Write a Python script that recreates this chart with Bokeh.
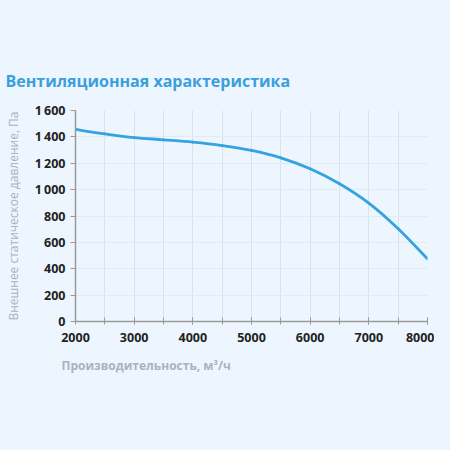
from bokeh.plotting import figure
from bokeh.models import Range1d, FixedTicker, Title, CustomJSTickFormatter
from bokeh.embed import file_html
from bokeh.resources import INLINE

# расход, м3/ч и давление, Па
flow = [2000, 2500, 3000, 3500, 4000, 4500, 5000, 5500, 6000, 6500, 7000, 7500, 8000]
pressure = [1456, 1423, 1395, 1378, 1360, 1334, 1297, 1241, 1158, 1044, 897, 703, 475]

x_ticks = [2000, 3000, 4000, 5000, 6000, 7000, 8000]
x_grid = [2000, 2500, 3000, 3500, 4000, 4500, 5000, 5500, 6000, 6500, 7000, 7500, 8000]
y_ticks = [0, 200, 400, 600, 800, 1000, 1200, 1400, 1600]

BG = "#EDF6FE"
FONT = "Open Sans"

p = figure(
    width=434, height=434, frame_width=352, frame_height=211,
    x_range=Range1d(2000, 8000), y_range=Range1d(0, 1600),
    output_backend="svg", toolbar_location=None,
    background_fill_color=BG, border_fill_color=BG,
    min_border_left=75, min_border_right=7, min_border_top=110, min_border_bottom=113,
)
p.outline_line_color = None

p.title.text = "Вентиляционная характеристика"
p.title.text_color = "#3A9FDC"
p.title.text_font = FONT
p.title.text_font_size = "16px"
p.title.text_font_style = "bold"
p.title.offset = -70
p.title.standoff = 38

# гладкая кривая: сегменты Безье по точкам (Catmull-Rom)
n = len(flow)
x0, y0, x1, y1, cx0, cy0, cx1, cy1 = [], [], [], [], [], [], [], []
for i in range(n - 1):
    a = max(i - 1, 0)
    b = min(i + 2, n - 1)
    x0.append(flow[i]); y0.append(pressure[i])
    x1.append(flow[i + 1]); y1.append(pressure[i + 1])
    cx0.append(flow[i] + (flow[i + 1] - flow[a]) / 6)
    cy0.append(pressure[i] + (pressure[i + 1] - pressure[a]) / 6)
    cx1.append(flow[i + 1] - (flow[b] - flow[i]) / 6)
    cy1.append(pressure[i + 1] - (pressure[b] - pressure[i]) / 6)
p.bezier(x0=x0, y0=y0, x1=x1, y1=y1, cx0=cx0, cy0=cy0, cx1=cx1, cy1=cy1,
         line_color="#35A3E0", line_width=2.8, line_cap="round")

p.xaxis.ticker = FixedTicker(ticks=x_ticks, minor_ticks=x_grid)
p.yaxis.ticker = FixedTicker(ticks=y_ticks)
p.yaxis.formatter = CustomJSTickFormatter(
    code="return tick >= 1000 ? Math.floor(tick/1000) + '\u2009' + String(tick % 1000).padStart(3, '0') : String(tick);"
)
p.xgrid.ticker = FixedTicker(ticks=x_grid)
p.xgrid.grid_line_color = "#D8E2EC"
p.ygrid.grid_line_color = "#E2EAF2"

for ax in (p.xaxis, p.yaxis):
    ax.axis_line_color = "#9A9A9A"
    ax.axis_line_width = 1.5
    ax.major_tick_line_color = "#9A9A9A"
    ax.minor_tick_line_color = "#9A9A9A"
    ax.major_label_text_font = FONT
    ax.major_label_text_font_size = "12.5px"
    ax.major_label_text_font_style = "bold"
    ax.major_label_text_color = "#222222"
    ax.axis_label_text_font = FONT
    ax.axis_label_text_font_size = "12px"
    ax.axis_label_text_color = "#A9B3BD"

p.xaxis.major_tick_in = 4
p.xaxis.major_tick_out = 3
p.xaxis.minor_tick_in = 4
p.xaxis.minor_tick_out = 3
p.yaxis.major_tick_in = 0
p.yaxis.major_tick_out = 5
p.yaxis.minor_tick_line_color = None
p.xaxis.major_label_standoff = 8

p.yaxis.axis_label = "Внешнее статическое давление, Па"
p.yaxis.axis_label_standoff = 10
p.yaxis.axis_label_text_font_style = "normal"

xlabel = Title(text="Производительность, м³/ч", align="left", offset=-14,
               text_font=FONT, text_font_size="12px", text_font_style="bold",
               text_color="#A9B3BD", standoff=21)
p.add_layout(xlabel, "below")

html = file_html(p, INLINE)
html = html.replace("<body>", '<body style="background:%s">' % BG)
open("out.html", "w").write(html)
